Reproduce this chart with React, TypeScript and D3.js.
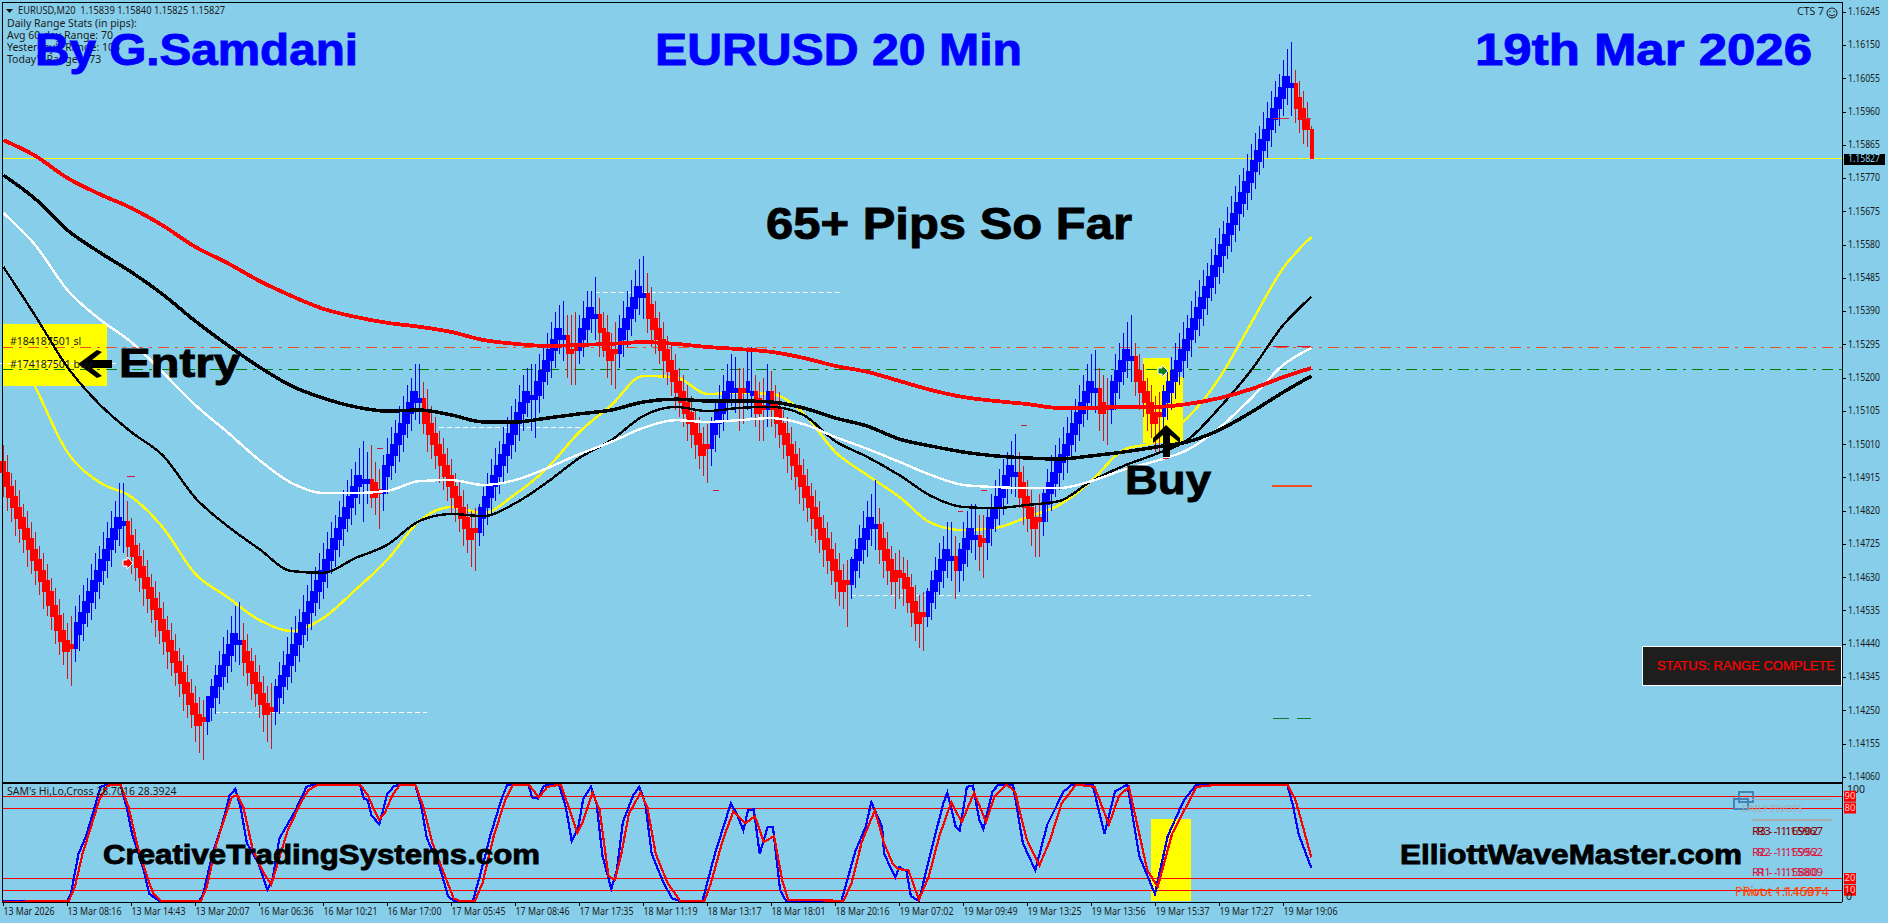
import React from "react";
import * as d3 from "d3";

const priceTicks = ["1.16245","1.16150","1.16055","1.15960","1.15865","1.15770","1.15675","1.15580","1.15485","1.15390","1.15295","1.15200","1.15105","1.15010","1.14915","1.14820","1.14725","1.14630","1.14535","1.14440","1.14345","1.14250","1.14155","1.14060"];
const timeTicks = ["13 Mar 2026","13 Mar 08:16","13 Mar 14:43","13 Mar 20:07","16 Mar 06:36","16 Mar 10:21","16 Mar 17:00","17 Mar 05:45","17 Mar 08:46","17 Mar 17:35","18 Mar 11:19","18 Mar 13:17","18 Mar 18:01","18 Mar 20:16","19 Mar 07:02","19 Mar 09:49","19 Mar 13:25","19 Mar 13:56","19 Mar 15:37","19 Mar 17:27","19 Mar 19:06"];

// Closing prices, in pips above 1.1400, one line per swing; swings alternate red, blue, red...
const swingRuns = [18,13,20,9,8,24,3,10,14,22,3,5,5,7,16,7,2,2,3,1,20,7,12,7,1,5,2,8,6,14,3,6,7,33,5];
const closePips = [
  93,89,86,83,80,77,74,71,68,65,62,59,55,52,48,45,42,43,
  47,50,53,56,59,62,65,68,71,74,77,80,79,
  75,72,69,66,63,60,57,54,51,48,45,42,39,36,33,30,27,24,21,22,
  26,29,32,35,38,41,44,47,45,
  42,39,36,33,30,27,24,25,
  29,32,35,38,41,44,47,50,53,56,59,62,65,68,71,74,77,80,83,86,89,92,91,91,
  90,86,87,
  92,95,98,101,104,107,110,113,116,114,
  111,107,104,101,98,95,92,89,86,83,80,77,74,76,
  80,83,86,89,92,95,98,101,104,107,110,113,116,115,115,119,122,125,128,131,134,132,
  128,127,128,
  131,134,137,140,138,
  134,133,128,125,127,
  131,134,137,140,143,146,144,
  141,137,134,131,128,125,122,119,116,113,110,107,104,101,98,100,
  104,107,110,113,116,119,117,
  113,116,
  119,116,
  114,110,111,
  116,
  113,111,107,104,101,98,95,92,89,86,83,80,77,74,71,68,65,62,59,61,
  65,68,71,74,77,80,78,
  74,71,68,65,62,64,63,60,56,53,50,52,
  56,59,62,65,68,71,69,
  65,
  67,71,74,77,75,
  72,73,
  77,80,83,86,89,92,95,93,
  90,86,83,80,77,79,
  84,87,90,93,96,98,101,104,107,110,113,116,119,117,
  113,110,111,
  116,119,122,125,128,126,
  122,119,116,113,110,107,109,
  113,116,119,122,125,128,131,134,137,140,143,146,149,152,155,158,161,164,167,170,173,176,179,182,185,188,191,194,197,200,203,206,204,
  200,197,194,191,182.7,
];
const wickUp = [
  5,5,4,5,5,4,5,5,5,4,5,5,4,5,5,5,5,8,
  8,8,8,7,8,8,7,8,8,8,8,10,11,
  6,5,5,4,5,5,4,5,5,5,4,5,5,4,5,5,4,5,5,5,
  3,5,6,7,8,7,8,8,11,
  5,5,4,5,5,5,5,7,
  5,7,7,8,8,8,7,8,8,8,7,8,8,8,8,7,8,8,8,8,7,8,11,8,
  10,6,6,
  6,8,8,7,8,8,8,7,8,10,
  5,6,5,5,4,5,5,5,4,5,5,4,5,6,
  4,6,7,8,8,7,8,8,8,7,8,8,7,9,9,8,7,8,8,8,7,10,
  6,10,10,
  7,8,8,5,11,
  5,5,5,5,8,
  7,8,8,8,8,8,11,
  6,5,5,5,5,4,5,5,4,5,5,5,4,5,5,6,
  5,7,8,8,8,8,9,
  6,6,
  9,13,
  5,5,8,
  8,
  6,5,5,4,5,5,4,5,5,5,4,5,5,4,5,5,5,5,5,6,
  4,6,7,8,8,7,13,
  5,5,5,4,5,6,5,5,4,5,5,6,
  4,6,7,8,7,8,10,
  6,
  6,8,8,7,9,
  6,7,
  6,7,8,8,8,7,7,11,
  6,5,5,5,4,7,
  5,7,8,8,7,8,8,8,7,8,8,8,8,11,
  6,8,8,
  5,8,8,8,8,12,
  4,5,5,4,5,5,6,
  5,6,7,8,8,8,7,8,8,8,8,7,8,8,8,7,8,8,8,8,7,8,8,8,7,8,8,8,8,7,8,8,12,
  4,5,5,5,1,
];
const wickDown = [
  7,7,7,8,7,7,8,7,7,7,8,7,7,8,7,7,8,11,
  4,5,5,4,5,5,5,4,5,5,4,5,8,
  9,8,7,7,8,7,7,8,7,7,8,7,7,7,8,7,7,8,8,11,
  4,4,5,5,4,5,5,5,6,
  7,7,8,7,7,8,8,11,
  4,5,5,4,5,5,5,4,5,5,4,5,5,5,4,5,5,5,4,5,5,5,11,6,
  7,5,10,
  5,5,4,5,5,5,4,5,5,6,
  7,8,7,7,8,7,7,8,7,7,8,7,8,11,
  4,5,5,5,4,5,5,5,4,5,5,5,4,9,11,5,5,4,5,5,4,6,
  8,9,10,
  4,5,5,4,6,
  8,7,8,7,10,
  4,5,5,5,4,5,6,
  8,8,7,7,8,7,7,8,7,7,8,7,7,7,6,10,
  5,5,4,5,5,4,6,
  8,9,
  5,6,
  8,8,9,
  5,
  7,8,7,7,8,7,7,8,7,7,8,7,7,8,7,7,8,7,5,12,
  4,5,5,4,5,5,6,
  7,8,7,7,8,7,8,7,7,8,7,10,
  3,5,5,4,5,5,6,
  8,
  6,5,5,4,6,
  7,10,
  5,5,4,5,5,5,5,6,
  7,8,7,8,8,10,
  4,5,5,4,5,5,5,4,5,5,4,5,5,6,
  8,8,10,
  4,5,5,4,5,6,
  7,8,7,8,7,8,10,
  4,5,5,5,4,5,5,5,4,5,5,5,4,5,5,5,4,5,5,5,4,5,5,5,4,5,5,5,4,5,5,5,8,
  7,7,7,5,0,
];

// Moving averages, read every 8th bar
const maBars = [0,8,16,24,32,40,48,56,64,72,80,88,96,104,112,120,128,136,144,152,160,168,176,184,192,200,208,216,224,232,240,248,256,264,272,280,288,296,304,312,320,327];
const maRed = [188,183.5,177.2,172.6,168.6,163.5,157.5,152.9,147.8,143.5,139.8,137.5,135.8,134.7,133.2,130.9,129.8,129.2,129.5,129.8,130.3,129.8,128.9,128.3,127.5,125.8,123.5,121.8,119.2,116.6,114.6,113.5,112.6,111.5,111.5,111.8,111.8,112.6,114.3,116.9,120.3,122.9];
const maBlackSlow = [178,171.2,162.3,156,150.3,143.8,136.3,129.5,123.2,117.8,114.3,111.8,110.6,110.9,109.5,107.5,107.5,108.6,109.8,110.9,113.2,114,113.5,113.5,113.2,111.5,108.6,106.3,102.6,100.6,98.9,97.8,97.2,96.9,97.8,98.9,100.3,101.8,105.2,110.3,116,120.6];
const maWhite = [167.2,158,145.2,136.9,130.3,121.5,112.3,104.6,96.6,90.1,87.2,87.2,87.8,90.6,90.9,89.5,90.9,94.3,98.3,101.8,105.8,108,107.5,108,108.6,106.9,103.2,99.8,96.1,92.3,89.5,88.9,88.6,88.6,90.6,93.8,96.3,99.5,105.8,114.3,123.8,128.6];
const maBlackFast = [151.8,137.8,123.2,112.6,104.6,97.8,85.8,77.8,71.2,64.9,64.4,68.6,72.4,79.2,81.2,80.6,84.3,90.3,97.2,102.3,109.2,111.8,110.6,111.5,111.8,109.5,102,97.5,92.3,86.3,83.2,82.9,83.8,84.9,90.6,94.9,98.3,102.3,111.5,122.3,135.2,143.2];
const maYellow = [135.2,117.5,98.9,90.3,86.1,77.2,64.1,57.5,50.9,47.8,51.5,59.5,68.1,79.2,83.2,81.5,86.9,94.3,104.6,112.3,120.6,120.3,115.5,115.8,115.5,110,98.9,92.3,86.1,78.6,76.6,77.2,80.3,83.8,90.6,99.5,101.8,108.6,120,135.8,151.5,160.3];

// Oscillator, as [bar, value] turning points
const oscBlueBars = [0,16,16.9,18.8,20.7,22.6,24.3,26,29.3,30.8,32.2,35.1,36.5,38.9,49,49.9,52.3,54.7,56.6,58,59.3,60.9,63.8,66,67.3,69,72.9,75.8,77.7,89.2,90.1,91.1,92,94,96,97.8,103,104.5,105.9,108.8,111.2,112.6,117.4,119.3,121.7,124.6,126,131.3,132.2,133.7,135.1,138.9,140.6,142.1,143.7,145,146.9,148.3,149.8,152,153.4,154.9,157.5,159,160.5,162.1,165.1,167.2,169.2,174.8,177.9,181.9,183.5,185,186.2,187.6,189.1,191.1,192.4,194.2,195.7,209.5,213.1,215.6,217,219.7,220.2,223,224,225.8,226.9,228.9,232,235,236,238.1,239.1,240.9,242.4,244,245,247.3,248.8,252.4,254.9,258,261,265.1,267.2,272.3,275.3,277.9,281,284,287.9,291.1,295.2,298.3,321,322.5,323.8,327];
const oscBlueVals = [1,1,7,41,56,78,98,100,100,81,58,27,7,1,1,6,41,66,91,96,81,50,33,10,19,54,77,98,100,100,88,87,74,66,92,99,100,81,54,33,5,1,1,24,56,88,100,100,89,88,99,100,81,52,63,88,98,84,39,11,27,68,91,98,84,41,16,3,1,1,41,84,74,61,78,79,41,64,64,10,1,1,44,64,85,64,41,21,30,26,5,1,44,84,93,64,61,98,99,70,62,94,100,100,50,27,66,94,100,100,58,94,100,39,7,56,87,100,100,81,58,29];
const oscRedBars = [0,16.4,17.9,19.8,22.2,24.1,26,29.3,31.3,33.6,36,37.5,39.4,49.4,50.9,53.3,55.7,57.1,58.5,60,62.4,65.2,67,68.6,71,74.3,76.2,78.6,89.2,91.1,92.5,94,95.4,97.3,99.2,103,105,107.3,110.2,112.6,114,117.9,119.8,122.6,125.5,127.4,131.3,133.9,136,139.4,141.3,143.5,144.7,147.3,149.1,151.3,152.9,154.4,156.4,159.3,161,163.1,166.1,169.2,175.3,176.9,179.9,182.5,185.5,187.9,190.1,192.7,194.7,196.2,210,212.1,214.6,217.9,220.2,222.3,223.8,226.3,228.9,231.4,234,237,239.6,242.7,245.7,247.8,250.8,252.9,255.9,259,261.5,264.6,268.2,272.8,276.4,278.9,281.4,286,288.6,292.2,298.3,304.2,321,322.9,323.8,327];
const oscRedVals = [0,1,13,41,67,88,99,100,81,47,21,7,1,1,13,50,75,89,91,81,44,24,15,33,60,84,95,100,100,91,80,70,76,91,100,100,81,50,24,3,1,1,16,56,87,100,100,89,98,100,81,59,67,93,78,22,19,39,75,93,81,41,16,1,1,16,53,77,67,73,51,56,19,2,1,16,51,78,50,33,28,27,2,22,56,85,68,93,68,90,100,94,53,31,51,84,100,98,66,90,98,27,13,58,98,100,100,88,78,38];
const oscLevels = [90,80,20,10];
const oscLevelLabels = ["90","80","20","10"];

const statsLines = ["Daily Range Stats (in pips):","Avg 60-day Range: 70","Yesterday's Range: 106","Today's Range: 173"];

// Objects on the chart: [first bar, last bar, pips]
const whiteDashes = [[-1,29,124.1],[53,106,24.6],[109,145,105.9],[148,210,144.6],[212,327,57.8]];
const redDashes = [[31,33,92],[93.4,95,99.8],[177.5,179,87.8],[238.6,240,82],[244.4,246,88],[254.4,256,106.6],[289.8,291.5,97]];
const slDashes = [[317.4,321.5,194.2],[323.4,327,194.2],[317.4,321.5,129],[323.4,327,129]];
const greenDashes = [[317.4,321.5,22.9],[323.4,327,22.9]];

const W = 1888, H = 923;
const SKY = "#87ceeb";
const LEFT = 2, RIGHT = 1842, MAIN_BOTTOM = 782, OSC_TOP = 784, OSC_BOTTOM = 902;
const MONO = "'Noto Sans', 'Liberation Sans', sans-serif";
const ARIAL = "'Liberation Sans', Arial, sans-serif";

const x = d3.scaleLinear().domain([0, 327]).range([3.3, 1311.3]);
const yPrice = d3.scaleLinear().domain([1.1406, 1.16245]).range([777.3, 12.3]);
const yPips = (p: number) => yPrice(1.14 + p / 10000);
const yOsc = d3.scaleLinear().domain([0, 100]).range([902, 784.5]);
const snap = (v: number) => Math.floor(v) + 0.5;

const bars = (() => {
  const out: any[] = [];
  let idx = 0;
  swingRuns.forEach((len, s) => {
    const up = s % 2 === 1;
    for (let k = 0; k < len; k++, idx++) {
      const close = closePips[idx];
      const prev = idx > 0 ? closePips[idx - 1] : close + 3;
      let open = prev;
      let thin = k === 0 && idx > 0;
      if (up && close <= prev) { open = close - 1; thin = true; }
      if (!up && close >= prev) { open = close + 1; thin = true; }
      if (idx === closePips.length - 1) thin = true;
      const top = Math.max(open, close), bottom = Math.min(open, close);
      out.push({ i: idx, up, thin, top, bottom, hi: top + (wickUp[idx] ?? 6), lo: bottom - (wickDown[idx] ?? 6) });
    }
  });
  return out;
})();

const maLine = d3.line<number>().x((_, i) => x(maBars[i])).y((d) => yPips(d)).curve(d3.curveMonotoneX);
const oscLine = (bs: number[]) => d3.line<number>().x((_, i) => x(bs[i])).y((d) => yOsc(d)).curve(d3.curveLinear);

function Small(p: any) {
  const { children, ...r } = p;
  return <text fontFamily={MONO} fontSize={10.5} fill="#1a1a1a" dominantBaseline="middle" {...r}>{children}</text>;
}
function Big(p: any) {
  const { children, fill, ...r } = p;
  return <text fontFamily={ARIAL} fontWeight="bold" lengthAdjust="spacingAndGlyphs" fill={fill} stroke={fill} strokeWidth={0.9} {...r}>{children}</text>;
}

export default function App() {
  return (
    <svg width={W} height={H} viewBox={`0 0 ${W} ${H}`} style={{ position: "absolute", left: 0, top: 0, display: "block" }}>
      <rect width={W} height={H} fill={SKY} />

      {/* Coloured object boxes */}
      <g shapeRendering="crispEdges">
        <rect x={3} y={324} width={104} height={62} fill="#ffff00" />
        <rect x={1143} y={358} width={27} height={85} fill="#ffff00" />
        <rect x={1170} y={377} width={13} height={66} fill="#ffff00" />
        <rect x={1151} y={819} width={40} height={82} fill="#ffff00" />
      </g>

      {/* Levels */}
      <line x1={LEFT} x2={RIGHT} y1={snap(yPips(128.9))} y2={snap(yPips(128.9))} stroke="#f0501e" strokeDasharray="11 6 3 6" shapeRendering="crispEdges" />
      <line x1={LEFT} x2={RIGHT} y1={snap(yPips(122.4))} y2={snap(yPips(122.4))} stroke="#008000" strokeDasharray="11 6 3 6" shapeRendering="crispEdges" />
      <line x1={LEFT} x2={RIGHT} y1={snap(yPrice(1.15827))} y2={snap(yPrice(1.15827))} stroke="#ffff00" strokeWidth={1.5} shapeRendering="crispEdges" />
      {whiteDashes.map((d, i) => (
        <line key={i} x1={x(d[0])} x2={x(d[1])} y1={snap(yPips(d[2]))} y2={snap(yPips(d[2]))} stroke="#fff" strokeDasharray="5 3" shapeRendering="crispEdges" />
      ))}

      <path d={maLine(maYellow)!} fill="none" stroke="#ffff00" strokeWidth={2.4} shapeRendering="crispEdges" />

      {/* Candles */}
      <g shapeRendering="crispEdges">
        {bars.map((b) => (
          <line key={"w" + b.i} x1={snap(x(b.i))} x2={snap(x(b.i))} y1={yPips(b.hi)} y2={yPips(b.lo)} stroke={b.up ? "#0000ff" : "#d2141e"} />
        ))}
        {bars.map((b) => (
          <rect key={"b" + b.i} x={Math.floor(x(b.i)) + (b.thin ? -1 : -5)} width={b.thin ? 4 : 8} y={yPips(b.top) - 0.75} height={yPips(b.bottom) - yPips(b.top) + 1.5} fill={b.up ? "#0000ff" : "#ff0000"} />
        ))}
      </g>

      <path d={maLine(maBlackFast)!} fill="none" stroke="#000" strokeWidth={2.4} shapeRendering="crispEdges" />
      <path d={maLine(maWhite)!} fill="none" stroke="#fff" strokeWidth={2.4} shapeRendering="crispEdges" />
      <path d={maLine(maBlackSlow)!} fill="none" stroke="#000" strokeWidth={3.5} shapeRendering="crispEdges" />
      <path d={maLine(maRed)!} fill="none" stroke="#ff0000" strokeWidth={3.8} shapeRendering="crispEdges" />

      {/* Short dashes */}
      <g shapeRendering="crispEdges">
        {redDashes.map((d, i) => (
          <line key={i} x1={x(d[0])} x2={x(d[1])} y1={snap(yPips(d[2]))} y2={snap(yPips(d[2]))} stroke="#dc143c" />
        ))}
        {slDashes.slice(0, 2).map((d, i) => (
          <line key={i} x1={x(d[0])} x2={x(d[1])} y1={snap(yPips(d[2]))} y2={snap(yPips(d[2]))} stroke="#d22846" />
        ))}
        {slDashes.slice(2).map((d, i) => (
          <line key={i} x1={x(d[0])} x2={x(d[1])} y1={snap(yPips(d[2]))} y2={snap(yPips(d[2]))} stroke="#dc143c" />
        ))}
        {greenDashes.map((d, i) => (
          <line key={i} x1={x(d[0])} x2={x(d[1])} y1={snap(yPips(d[2]))} y2={snap(yPips(d[2]))} stroke="#0f7a2a" />
        ))}
        <line x1={1272} x2={1312} y1={486} y2={486} stroke="#f0501e" strokeWidth={2} />
      </g>

      {/* Trade markers */}
      <polygon points="123,560 127,560 127,557 133,563 127,569 127,566 123,566" fill="#ff0000" stroke="#fff" strokeWidth={1} />
      <polygon points="1158,368 1162,368 1162,365 1168,371 1162,377 1162,374 1158,374" fill="#0a7a1e" stroke="#fff" strokeWidth={1} />

      {/* Header */}
      <polygon points="6,9 13,9 9.5,13" fill="#111" />
      <Small x={18} y={11} fontSize={11} textLength={207} lengthAdjust="spacingAndGlyphs" xmlSpace="preserve">EURUSD,M20  1.15839 1.15840 1.15825 1.15827</Small>
      {statsLines.map((s, i) => <Small key={i} x={7} y={24 + i * 12} fontSize={10.5}>{s}</Small>)}
      <Small x={1797} y={12} fontSize={10.5}>CTS 7</Small>
      <circle cx={1832} cy={13} r={5} fill="none" stroke="#111" />
      <circle cx={1830} cy={11.5} r={0.7} fill="#111" />
      <circle cx={1834} cy={11.5} r={0.7} fill="#111" />
      <path d="M1829.2 14.5 Q1832 17.5 1834.8 14.5" fill="none" stroke="#111" />

      {/* Titles */}
      <Big x={35} y={65} fontSize={44} fill="#0000ff" textLength={323}>By G.Samdani</Big>
      <Big x={655} y={65} fontSize={44} fill="#0000ff" textLength={367}>EURUSD 20 Min</Big>
      <Big x={1475} y={65} fontSize={44} fill="#0000ff" textLength={337}>19th Mar 2026</Big>
      <Big x={766} y={239} fontSize={44} fill="#000" textLength={366}>65+ Pips So Far</Big>
      <Big x={119} y={377} fontSize={41} fill="#000" textLength={121}>Entry</Big>
      <Big x={1125} y={494} fontSize={40} fill="#000" textLength={86}>Buy</Big>
      <polygon points="78,364 97,350 102,352 92,360 112,360 112,368 92,368 102,376 97,378" fill="#000" />
      <polygon points="1166,425 1180,438 1180,443 1170,435 1170,457 1163,457 1163,435 1153,443 1153,438" fill="#000" />
      <Small x={10} y={342} fontSize={10.5}>#184187501 sl</Small>
      <Small x={10} y={365} fontSize={10.5}>#174187501 buy</Small>

      {/* Status */}
      <rect x={1642.5} y={646.5} width={199} height={39} fill="#1e1e1e" stroke="#fff" />
      <Small x={1657} y={667} fill="#ff0000" fontSize={12.5} stroke="#ff0000" strokeWidth={0.25} textLength={178} lengthAdjust="spacingAndGlyphs" fontFamily={ARIAL}>STATUS: RANGE COMPLETE</Small>

      {/* Oscillator */}
      <g shapeRendering="crispEdges">
        {oscLevels.map((v) => <line key={v} x1={LEFT} x2={RIGHT} y1={snap(yOsc(v))} y2={snap(yOsc(v))} stroke="#ff0000" />)}
      </g>
      <path d={oscLine(oscBlueBars)(oscBlueVals)!} fill="none" stroke="#0000ff" strokeWidth={2.2} shapeRendering="crispEdges" />
      <path d={oscLine(oscRedBars)(oscRedVals)!} fill="none" stroke="#ff0000" strokeWidth={2.2} shapeRendering="crispEdges" />
      <Small x={7} y={792} fontSize={10.5}>SAM's Hi,Lo,Cross 28.7016 28.3924</Small>
      <Big x={103} y={864} fontSize={28} fill="#000" textLength={437}>CreativeTradingSystems.com</Big>
      <Big x={1400} y={864} fontSize={28} fill="#000" textLength={342}>ElliottWaveMaster.com</Big>

      {/* Pivot panel */}
      <rect x={1739} y={792} width={14} height={10} fill="none" stroke="#4682b4" strokeWidth={2} />
      <rect x={1734} y={799} width={14} height={10} fill="none" stroke="#4682b4" strokeWidth={2} />
      <line x1={1752} x2={1832} y1={799.5} y2={799.5} stroke="#aaa" strokeWidth={1} />
      <line x1={1752} x2={1832} y1={820} y2={820} stroke="#aaa" strokeWidth={2} />
      <Small x={1742} y={809} fill="#aaa" fontSize={9.5}>DAILY PIVOTS</Small>
      <Small x={1752} y={832} fill="#8b0000" fontSize={11.5}>R3 - 1.16902</Small>
      <Small x={1757} y={832} fill="#8b0000" fontSize={11.5}>R3 - 1.15967</Small>
      <Small x={1752} y={853} fill="#dc143c" fontSize={11.5}>R2 - 1.15952</Small>
      <Small x={1757} y={853} fill="#dc143c" fontSize={11.5}>R2 - 1.15962</Small>
      <Small x={1752} y={873} fill="#dc143c" fontSize={11.5}>R1 - 1.15880</Small>
      <Small x={1757} y={873} fill="#dc143c" fontSize={11.5}>R1 - 1.15809</Small>
      <Small x={1735} y={893} fill="#ff4500" fontSize={12.5}>Pivot - 1.14691</Small>
      <Small x={1743} y={893} fill="#ff4500" fontSize={12.5}>Pivot - 1.15074</Small>

      {/* Frames */}
      <g shapeRendering="crispEdges" stroke="#000">
        <line x1={LEFT} x2={RIGHT} y1={2.5} y2={2.5} />
        <line x1={LEFT} x2={RIGHT} y1={MAIN_BOTTOM + 0.5} y2={MAIN_BOTTOM + 0.5} />
        <line x1={LEFT} x2={RIGHT} y1={OSC_TOP - 0.5} y2={OSC_TOP - 0.5} />
        <line x1={LEFT} x2={RIGHT} y1={OSC_BOTTOM + 0.5} y2={OSC_BOTTOM + 0.5} />
        <line x1={LEFT + 0.5} x2={LEFT + 0.5} y1={2} y2={OSC_BOTTOM} />
        <line x1={RIGHT + 0.5} x2={RIGHT + 0.5} y1={2} y2={OSC_BOTTOM} />
      </g>

      {/* Price axis */}
      {priceTicks.map((t) => (
        <g key={t}>
          <line x1={RIGHT} x2={RIGHT + 4} y1={yPrice(+t)} y2={yPrice(+t)} stroke="#000" shapeRendering="crispEdges" />
          <Small x={1848} y={yPrice(+t)} textLength={32} lengthAdjust="spacingAndGlyphs">{t}</Small>
        </g>
      ))}
      <rect x={1844} y={154} width={41} height={11} fill="#000" />
      <Small x={1848} y={159.5} fill={SKY} textLength={32} lengthAdjust="spacingAndGlyphs">1.15827</Small>

      {/* Oscillator scale */}
      <Small x={1847} y={790}>100</Small>
      {oscLevels.map((v, i) => (
        <g key={v}>
          <rect x={1844} y={yOsc(v) - 5.5} width={12} height={11} fill="#ff0000" />
          <text x={1850} y={yOsc(v)} fontFamily={MONO} fontSize={9.5} fill="#ffd0d0" textAnchor="middle" dominantBaseline="middle">{oscLevelLabels[i]}</text>
        </g>
      ))}
      <Small x={1846} y={897}>0</Small>

      {/* Time axis */}
      {timeTicks.map((t, i) => {
        const tx = Math.round(x(i * 16)) + 0.5;
        return (
          <g key={t}>
            <line x1={tx} x2={tx} y1={OSC_BOTTOM} y2={OSC_BOTTOM + 4} stroke="#000" shapeRendering="crispEdges" />
            <Small x={tx} y={912} textLength={i === 0 ? 51 : 54} lengthAdjust="spacingAndGlyphs">{t}</Small>
          </g>
        );
      })}
    </svg>
  );
}
